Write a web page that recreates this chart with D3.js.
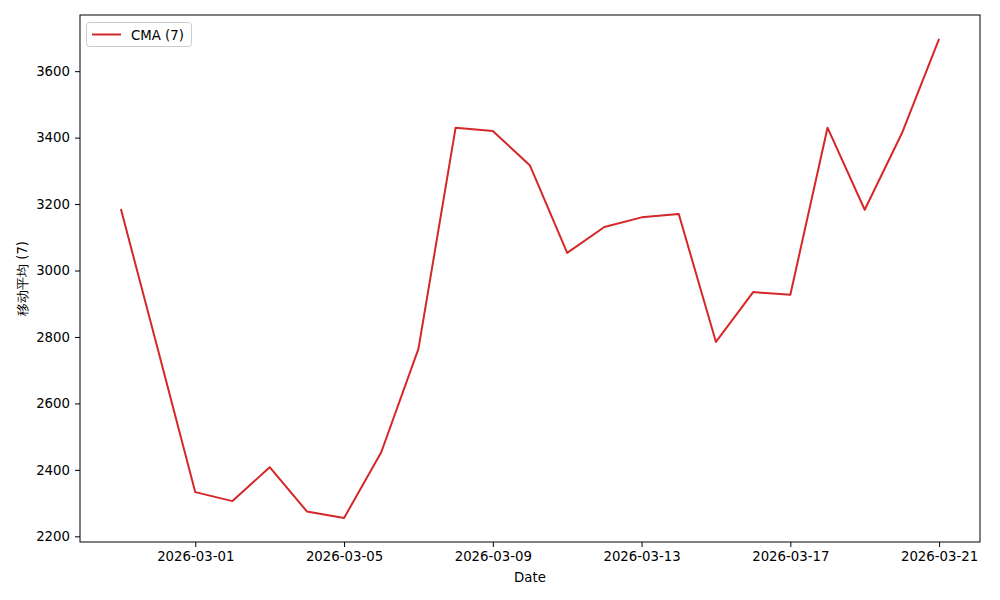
<!DOCTYPE html>
<html><head><meta charset="utf-8">
<script src="https://cdn.jsdelivr.net/npm/d3@7"></script>
<style>body{margin:0;background:#fff}svg{display:block}text{font-family:"DejaVu Sans",sans-serif}</style>
</head><body><svg id="c" width="1000" height="600"></svg>
<script>
const dates = ["2026-02-27","2026-02-28","2026-03-01","2026-03-02","2026-03-03","2026-03-04","2026-03-05","2026-03-06","2026-03-07","2026-03-08","2026-03-09","2026-03-10","2026-03-11","2026-03-12","2026-03-13","2026-03-14","2026-03-15","2026-03-16","2026-03-17","2026-03-18","2026-03-19","2026-03-20","2026-03-21"];
const cma = [3185,2760,2333,2306,2408,2275,2255,2453,2764,3430,3420,3316,3053,3131,3160,3170,2785,2935,2927,3430,3183,3413,3697];
const yTicks = [2200,2400,2600,2800,3000,3200,3400,3600];
const xTickLabels = ["2026-03-01","2026-03-05","2026-03-09","2026-03-13","2026-03-17","2026-03-21"];
const seriesName = "CMA (7)";
const xLabel = "Date";
const yLabel = "移动平均 (7)";

const parse = d3.utcParse("%Y-%m-%d");
const data = dates.map((d,i)=>({d:parse(d), v:cma[i]}));
const L=80,R=980,T=15,B=542;
const svg=d3.select("#c");
const x0=data[0].d, x1=data[data.length-1].d, span=x1-x0;
const x=d3.scaleUtc().domain([new Date(+x0-span*0.05), new Date(+x1+span*0.05)]).range([L,R]);
const vmin=d3.min(cma), vmax=d3.max(cma), vr=vmax-vmin;
const y=d3.scaleLinear().domain([vmin-vr*0.05, vmax+vr*0.05]).range([B,T]);

const fmt=d3.utcFormat("%Y-%m-%d");
const xa=svg.append("g").attr("transform",`translate(0,${B})`)
  .call(d3.axisBottom(x).tickValues(xTickLabels.map(parse)).tickFormat(fmt).tickSize(5).tickPadding(5));
const ya=svg.append("g").attr("transform",`translate(${L},0)`)
  .call(d3.axisLeft(y).tickValues(yTicks).tickFormat(d3.format("d")).tickSize(5).tickPadding(5));
[xa,ya].forEach(a=>{a.select(".domain").remove();a.selectAll("line").attr("stroke","#000").attr("stroke-width",1);a.selectAll("text").attr("font-size","13.3px").attr("fill","#000").attr("font-family","DejaVu Sans");});

svg.append("path").datum(data).attr("fill","none").attr("stroke","#d62728").attr("stroke-width",2)
  .attr("stroke-linejoin","round")
  .attr("d",d3.line().x(d=>x(d.d)).y(d=>y(d.v)));

svg.append("rect").attr("x",L).attr("y",T).attr("width",R-L).attr("height",B-T)
  .attr("fill","none").attr("stroke","#000").attr("stroke-width",1);

svg.append("text").attr("x",(L+R)/2).attr("y",582).attr("text-anchor","middle").attr("font-size","13.3px").text(xLabel);
svg.append("text").attr("transform",`translate(27,${(T+B)/2}) rotate(-90)`).attr("text-anchor","middle")
  .attr("font-size","13.3px").attr("font-family","'Noto Sans CJK SC','DejaVu Sans',sans-serif").text(yLabel);

const lg=svg.append("g");
lg.append("rect").attr("x",86.5).attr("y",22.5).attr("width",105).attr("height",24).attr("rx",3)
  .attr("fill","#fff").attr("fill-opacity",0.8).attr("stroke","#ccc");
lg.append("line").attr("x1",92).attr("x2",121).attr("y1",34.5).attr("y2",34.5).attr("stroke","#d62728").attr("stroke-width",2);
lg.append("text").attr("x",131).attr("y",39.5).attr("font-size","13.3px").text(seriesName);
</script></body></html>
